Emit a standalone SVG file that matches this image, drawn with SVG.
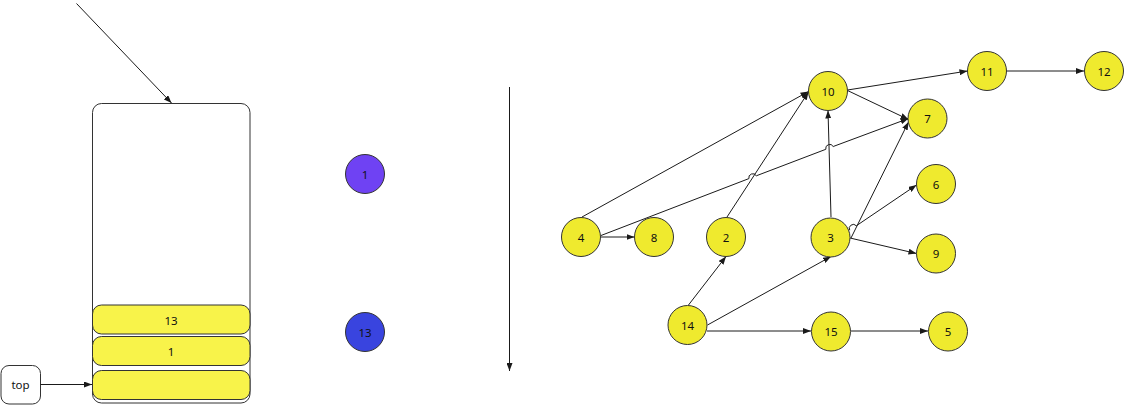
<svg xmlns="http://www.w3.org/2000/svg" width="1124" height="405" viewBox="0 0 1124 405">
<style>
.n{fill:#EFEA2E;stroke:#333;stroke-width:1}
.bar{fill:#F8F34A;stroke:#333;stroke-width:1}
.t{font-family:"Noto Sans","Open Sans",sans-serif;font-size:11.5px;fill:#111;text-anchor:middle;dominant-baseline:central}
.e{fill:none;stroke:#1a1a1a;stroke-width:1}
.a{marker-end:url(#ah)}
</style>
<defs>
<marker id="ah" markerWidth="8" markerHeight="6" refX="8" refY="3" orient="auto" markerUnits="userSpaceOnUse">
<path d="M0,0 L8,3 L0,6 z" fill="#1a1a1a"/>
</marker>
</defs>
<rect width="1124" height="405" fill="#fff"/>

<g id="stack">
<rect x="92.5" y="103.5" width="157.5" height="299.5" rx="9" fill="#fff" stroke="#333"/>
</g>
<g id="bar13"><rect class="bar" x="92.5" y="305" width="157.5" height="29" rx="9"/><text class="t" x="171" y="320">13</text></g>
<g id="bar1"><rect class="bar" x="92.5" y="336.5" width="157.5" height="29" rx="9"/><text class="t" x="171" y="351">1</text></g>
<g id="bar0"><rect class="bar" x="92.5" y="370.5" width="157.5" height="29" rx="9"/></g>
<g id="top"><rect x="1" y="365.5" width="39.5" height="38.5" rx="8" fill="#fff" stroke="#333"/><text class="t" x="20.5" y="384.5">top</text></g>

<g id="c1"><circle cx="365" cy="174" r="19.5" fill="#6F42F3" stroke="#333"/><text class="t" x="365" y="174">1</text></g>
<g id="c13"><circle cx="365" cy="332" r="19.5" fill="#3944DF" stroke="#333"/><text class="t" x="365" y="332">13</text></g>

<g id="connectors">
<path class="e a" d="M76.5,3.5 L171.5,103"/>
<path class="e a" d="M40.5,384.5 L92,384.5"/>
<path class="e a" d="M509.5,87 L509.5,371"/>
<path class="e a" d="M582,217 L808.5,91.5"/>
<path class="e a" d="M601,235.5 L748.9,178.6 A4,4 0 0 1 756.3,175.8 L825.8,149.3 A4,4 0 0 1 833.2,146.5 L908.5,118.5"/>
<path class="e a" d="M601,237 L634.5,237"/>
<path class="e a" d="M727,217 L808.5,92"/>
<path class="e a" d="M831,217 L828,110.5"/>
<path class="e a" d="M847.5,90.5 L908.5,119.5"/>
<path class="e a" d="M847.5,90 L967.5,71"/>
<path class="e a" d="M1006.5,71 L1084,71"/>
<path class="e a" d="M851,238 L908.5,122"/>
<path class="e a" d="M849.7,230.2 A4,4 0 0 1 856.3,225.8 L916.5,185"/>
<path class="e a" d="M850,238 L916.5,253.5"/>
<path class="e a" d="M688.5,305 L726,256.5"/>
<path class="e a" d="M707.5,325 L831,256.5"/>
<path class="e a" d="M707,331 L811,331"/>
<path class="e a" d="M851,331 L928,331"/>
</g>

<g id="n10"><circle class="n" cx="828" cy="91" r="19.5"/><text class="t" x="828" y="91">10</text></g>
<g id="n11"><circle class="n" cx="987" cy="71" r="19.5"/><text class="t" x="987" y="71">11</text></g>
<g id="n12"><circle class="n" cx="1104" cy="71" r="19.5"/><text class="t" x="1104" y="71">12</text></g>
<g id="n7"><circle class="n" cx="927.5" cy="118.5" r="19.5"/><text class="t" x="927.5" y="118.5">7</text></g>
<g id="n6"><circle class="n" cx="936" cy="184" r="19.5"/><text class="t" x="936" y="184">6</text></g>
<g id="n9"><circle class="n" cx="936" cy="253.5" r="19.5"/><text class="t" x="936" y="253.5">9</text></g>
<g id="n3"><circle class="n" cx="830.5" cy="237.5" r="19.5"/><text class="t" x="830.5" y="237.5">3</text></g>
<g id="n2"><circle class="n" cx="726" cy="237" r="19.5"/><text class="t" x="726" y="237">2</text></g>
<g id="n4"><circle class="n" cx="581" cy="237" r="19.5"/><text class="t" x="581" y="237">4</text></g>
<g id="n8"><circle class="n" cx="654" cy="237" r="19.5"/><text class="t" x="654" y="237">8</text></g>
<g id="n14"><circle class="n" cx="687.5" cy="325" r="19.5"/><text class="t" x="687.5" y="325">14</text></g>
<g id="n15"><circle class="n" cx="831" cy="331.5" r="19.5"/><text class="t" x="831" y="331.5">15</text></g>
<g id="n5"><circle class="n" cx="948" cy="331.5" r="19.5"/><text class="t" x="948" y="331.5">5</text></g>
</svg>
